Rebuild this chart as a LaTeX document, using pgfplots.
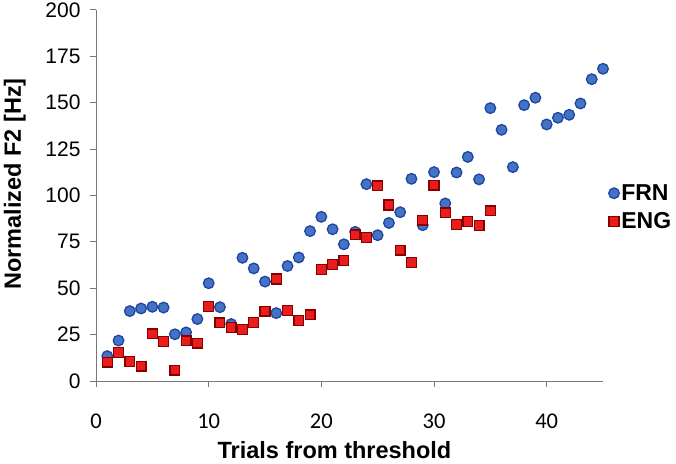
\documentclass[border=0pt]{standalone}
\usepackage{pgfplots}
\pgfplotsset{compat=1.18}
\usepackage{fontspec}
\setmainfont{Liberation Sans}
\newfontfamily\calibri{Carlito}
\definecolor{frnfill}{RGB}{68,114,196}
\definecolor{frnedge}{RGB}{30,70,160}
\definecolor{engfill}{RGB}{235,28,28}
\definecolor{engedge}{RGB}{135,0,0}
\definecolor{axgray}{RGB}{120,120,120}
\pgfplotstableread{
x y
1 13.4
2 21.8
3 37.7
4 39.1
5 40
6 39.6
7 25.2
8 26.2
9 33.4
10 52.7
11 39.8
12 30.7
13 66.4
14 60.7
15 53.6
16 36.6
17 62
18 66.6
19 80.8
20 88.5
21 81.8
22 73.7
23 80.4
24 106.1
25 78.6
26 85.2
27 91
28 109
29 84
30 112.6
31 95.7
32 112.4
33 120.8
34 108.7
35 147.1
36 135.4
37 115.3
38 148.7
39 152.7
40 138.3
41 141.9
42 143.5
43 149.6
44 162.7
45 168.3
}\frn
\pgfplotstableread{
x y
1 10.2
2 15.4
3 10.4
4 8.0
5 25.4
6 21.3
7 5.9
8 21.6
9 20.4
10 40.2
11 31.3
12 28.9
13 27.7
14 31.6
15 37.7
16 55
17 37.9
18 32.7
19 35.7
20 60.1
21 62.9
22 64.9
23 78.8
24 77.3
25 105.2
26 94.9
27 70.5
28 63.9
29 86.7
30 105.6
31 90.6
32 84.5
33 86.1
34 83.8
35 91.7
}\eng
\begin{document}
\begin{tikzpicture}
\useasboundingbox (-96bp,-83bp) rectangle (580bp,381bp);
\begin{axis}[
  at={(0,0)}, anchor=south west,
  scale only axis, width=507bp, height=371bp,
  xmin=0, xmax=45, ymin=0, ymax=200,
  axis x line*=bottom, axis y line*=left,
  axis line style={draw=axgray, line width=1pt, -},
  xtick={0,10,20,30,40}, ytick={0,25,...,200},
  tick align=outside, major tick length=6bp,
  tick style={draw=axgray, line width=1pt},
  /pgf/number format/assume math mode=true,
  yticklabel style={font=\fontsize{21bp}{24bp}\selectfont, text=black, xshift=-6bp},
  xticklabel style={font=\calibri\fontsize{22.5bp}{26bp}\selectfont, text=black, yshift=-23bp},
  xlabel={Trials from threshold},
  ylabel={Normalized F2 [Hz]},
  xlabel style={font=\bfseries\fontsize{23.5bp}{28bp}\selectfont, at={(axis description cs:0.4704,0)}, anchor=base, yshift=-77.5bp},
  ylabel style={font=\bfseries\fontsize{23.5bp}{28bp}\selectfont, at={(axis description cs:-0.148,0.531)}, anchor=base},
  legend style={draw=none, fill=none, at={(axis description cs:1.005,0.4677)}, anchor=west,
    font=\bfseries\fontsize{23bp}{28bp}\selectfont, row sep=7bp},
  legend cell align=left,
  legend image code/.code={\draw[#1] plot coordinates {(0.1cm,0cm)};},
  clip=false,
]
\addplot[only marks, mark=*, mark size=5.3bp, mark options={fill=frnfill, draw=frnedge, line width=1.3pt}] table[x=x,y=y]{\frn};
\addlegendentry{FRN}
\addplot[only marks, mark=square*, mark size=4.9bp, mark options={fill=engfill, draw=engedge, line width=1.3pt}] table[x=x,y=y]{\eng};
\addlegendentry{ENG}
\end{axis}
\end{tikzpicture}
\end{document}
